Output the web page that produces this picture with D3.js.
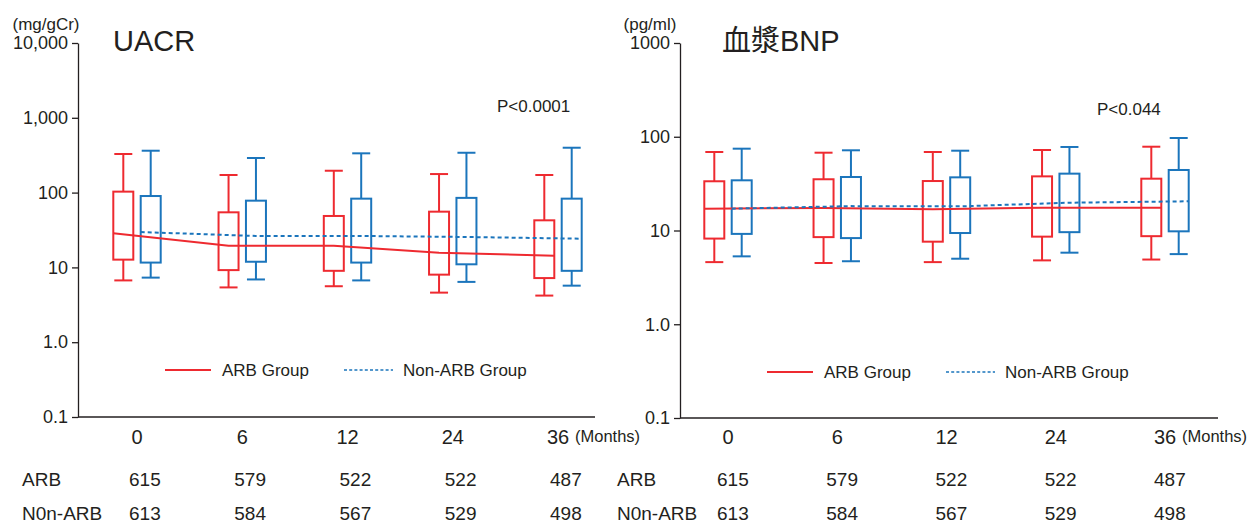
<!DOCTYPE html>
<html><head><meta charset="utf-8">
<script src="https://cdn.jsdelivr.net/npm/d3@7"></script>
<style>
html,body{margin:0;padding:0;background:#fff;}
text{font-family:"Liberation Sans",Arial,"Noto Sans CJK JP",sans-serif;fill:#231f20;}
</style></head>
<body><svg id="c" width="1251" height="525"></svg>
<script>
// ---- data ----
const months = [0, 6, 12, 24, 36];
const monthLabels = ["0", "6", "12", "24", "36"];

const uacrArbMin = [6.7, 5.4, 5.6, 4.6, 4.2];
const uacrArbQ1  = [12.7, 9.2, 9.0, 8.0, 7.2];
const uacrArbMed = [28.6, 19.5, 19.5, 15.7, 14.3];
const uacrArbQ3  = [103, 54.5, 48.7, 55.6, 42.6];
const uacrArbMax = [328, 172, 196, 177, 172];

const uacrNonMin = [7.3, 6.9, 6.7, 6.4, 5.7];
const uacrNonQ1  = [11.6, 11.9, 11.6, 11.0, 9.0];
const uacrNonMed = [29.7, 26.3, 26.3, 25.5, 24.2];
const uacrNonQ3  = [90, 78, 83, 85, 83];
const uacrNonMax = [363, 290, 335, 341, 398];

const bnpArbMin = [4.6, 4.5, 4.6, 4.8, 4.9];
const bnpArbQ1  = [8.2, 8.5, 7.6, 8.6, 8.7];
const bnpArbMed = [17.1, 17.4, 16.9, 17.5, 17.5];
const bnpArbQ3  = [33.5, 35.2, 33.7, 37.8, 35.7];
const bnpArbMax = [68.8, 67.6, 68.8, 72.2, 78.3];

const bnpNonMin = [5.3, 4.7, 5.0, 5.8, 5.6];
const bnpNonQ1  = [9.2, 8.3, 9.4, 9.6, 9.8];
const bnpNonMed = [17.1, 18.2, 18.1, 19.8, 20.5];
const bnpNonQ3  = [34.3, 37.2, 36.9, 40.4, 44.2];
const bnpNonMax = [74.6, 71.7, 71, 77.8, 97];

const arbN = [615, 579, 522, 522, 487];
const nonArbN = [613, 584, 567, 529, 498];

const uacrTicks = [10000, 1000, 100, 10, 1, 0.1];
const uacrTickLabels = ["10,000", "1,000", "100", "10", "1.0", "0.1"];
const bnpTicks = [1000, 100, 10, 1, 0.1];
const bnpTickLabels = ["1000", "100", "10", "1.0", "0.1"];

const RED = "#ee2a30", BLUE = "#1b75bc";

const svg = d3.select("#c");

function build(min, q1, med, q3, max) {
  return months.map((m, i) => ({m, i, min: min[i], q1: q1[i], med: med[i], q3: q3[i], max: max[i]}));
}

const panels = [
  {
    title: "UACR", unit: "(mg/gCr)", p: "P<0.0001",
    axisX: 78, right: 595, top: 43, bottom: 417, xr: [137, 558],
    ticks: uacrTicks, tickLabels: uacrTickLabels, domain: [0.1, 10000],
    arb: build(uacrArbMin, uacrArbQ1, uacrArbMed, uacrArbQ3, uacrArbMax),
    non: build(uacrNonMin, uacrNonQ1, uacrNonMed, uacrNonQ3, uacrNonMax),
    titleX: 113, unitX: 46, pX: 497, pY: 112,
    legX: 165, legY: 370, nameX: 22, numOff: -8
  },
  {
    title: "血漿BNP", unit: "(pg/ml)", p: "P<0.044",
    axisX: 680, right: 1218, top: 43, bottom: 418, xr: [728, 1165],
    ticks: bnpTicks, tickLabels: bnpTickLabels, domain: [0.1, 1000],
    arb: build(bnpArbMin, bnpArbQ1, bnpArbMed, bnpArbQ3, bnpArbMax),
    non: build(bnpNonMin, bnpNonQ1, bnpNonMed, bnpNonQ3, bnpNonMax),
    titleX: 722, unitX: 650, pX: 1097, pY: 115,
    legX: 767, legY: 372, nameX: 617, numOff: -11
  }
];

const BOXW = 20, CAPW = 18, OFF = 13.7;

panels.forEach(P => {
  const g = svg.append("g");
  const y = d3.scaleLog().domain(P.domain).range([P.bottom, P.top]);
  const x = d3.scalePoint().domain(months).range(P.xr).padding(0);

  // y axis
  const ax = g.append("g").attr("transform", `translate(${P.axisX},0)`)
    .call(d3.axisLeft(y).tickValues(P.ticks)
      .tickFormat((d, i) => P.tickLabels[i]).tickSize(6).tickSizeOuter(0).tickPadding(4));
  ax.select(".domain").attr("stroke", "#231f20").attr("stroke-width", 1.3);
  ax.selectAll(".tick line").attr("stroke", "#231f20").attr("stroke-width", 1.3);
  ax.selectAll(".tick text").attr("font-size", 18).attr("fill", "#231f20")
    .attr("font-family", '"Liberation Sans",Arial,sans-serif');

  // x axis line
  g.append("line").attr("x1", P.axisX).attr("x2", P.right)
    .attr("y1", y(P.domain[0])).attr("y2", y(P.domain[0]))
    .attr("stroke", "#231f20").attr("stroke-width", 1.3);

  // x tick labels
  g.selectAll(".xl").data(months).enter().append("text")
    .attr("x", d => x(d)).attr("y", 444).attr("text-anchor", "middle")
    .attr("font-size", 20).text((d, i) => monthLabels[i]);
  g.append("text").attr("x", x(36) + 17).attr("y", 442).attr("font-size", 16.5).text("(Months)");

  // unit & title & p
  g.append("text").attr("x", P.unitX).attr("y", 30).attr("text-anchor", "middle")
    .attr("font-size", 17).text(P.unit);
  g.append("text").attr("x", P.titleX).attr("y", 51).attr("font-size", 29).text(P.title);
  g.append("text").attr("x", P.pX).attr("y", P.pY).attr("font-size", 17).text(P.p);

  // boxes
  [[P.arb, RED, -OFF], [P.non, BLUE, OFF]].forEach(([data, col, off]) => {
    const bg = g.append("g").attr("stroke", col).attr("stroke-width", 2).attr("fill", "none");
    const cx = d => x(d.m) + off;
    bg.selectAll(".w1").data(data).enter().append("line")
      .attr("x1", cx).attr("x2", cx).attr("y1", d => y(d.max)).attr("y2", d => y(d.q3));
    bg.selectAll(".w2").data(data).enter().append("line")
      .attr("x1", cx).attr("x2", cx).attr("y1", d => y(d.q1)).attr("y2", d => y(d.min));
    bg.selectAll(".c1").data(data).enter().append("line")
      .attr("x1", d => cx(d) - CAPW / 2).attr("x2", d => cx(d) + CAPW / 2)
      .attr("y1", d => y(d.max)).attr("y2", d => y(d.max));
    bg.selectAll(".c2").data(data).enter().append("line")
      .attr("x1", d => cx(d) - CAPW / 2).attr("x2", d => cx(d) + CAPW / 2)
      .attr("y1", d => y(d.min)).attr("y2", d => y(d.min));
    bg.selectAll(".b").data(data).enter().append("rect")
      .attr("x", d => cx(d) - BOXW / 2).attr("width", BOXW)
      .attr("y", d => y(d.q3)).attr("height", d => y(d.q1) - y(d.q3));
  });

  // median lines
  [[P.arb, RED, null], [P.non, BLUE, "4,3"]].forEach(([data, col, dash], k) => {
    const off = k === 0 ? -OFF : OFF;
    const last = data.length - 1;
    const line = d3.line()
      .x(d => x(d.m) + off + (d.i === 0 ? -BOXW / 2 : d.i === last ? BOXW / 2 : 0))
      .y(d => y(d.med));
    g.append("path").attr("d", line(data)).attr("fill", "none")
      .attr("stroke", col).attr("stroke-width", 2).attr("stroke-dasharray", dash);
  });

  // legend
  const lg = g.append("g");
  lg.append("line").attr("x1", P.legX).attr("x2", P.legX + 46).attr("y1", P.legY).attr("y2", P.legY)
    .attr("stroke", RED).attr("stroke-width", 2);
  lg.append("text").attr("x", P.legX + 57).attr("y", P.legY + 6).attr("font-size", 17).text("ARB Group");
  lg.append("line").attr("x1", P.legX + 179).attr("x2", P.legX + 228).attr("y1", P.legY).attr("y2", P.legY)
    .attr("stroke", BLUE).attr("stroke-width", 1.6).attr("stroke-dasharray", "3,2.2");
  lg.append("text").attr("x", P.legX + 238).attr("y", P.legY + 6).attr("font-size", 17).text("Non-ARB Group");

  // table
  const ROW1 = 486, ROW2 = 520;
  g.append("text").attr("x", P.nameX).attr("y", ROW1).attr("font-size", 19).text("ARB");
  g.append("text").attr("x", P.nameX).attr("y", ROW2).attr("font-size", 19).text("N0n-ARB");
  g.selectAll(".n1").data(months).enter().append("text")
    .attr("x", d => x(d) + P.numOff).attr("y", ROW1).attr("font-size", 19).text((d, i) => arbN[i]);
  g.selectAll(".n2").data(months).enter().append("text")
    .attr("x", d => x(d) + P.numOff).attr("y", ROW2).attr("font-size", 19).text((d, i) => nonArbN[i]);
});
</script></body></html>
